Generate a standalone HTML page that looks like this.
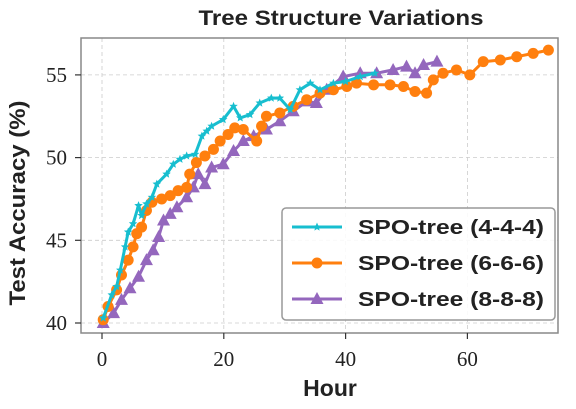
<!DOCTYPE html>
<html><head><meta charset="utf-8"><style>
body{margin:0;background:#fff;}
svg text{font-family:"Liberation Sans",sans-serif;}
.tick{font-family:"Liberation Serif",serif;font-size:21px;fill:#222;}
</style></head><body>
<svg id="chart" width="576" height="404" xmlns="http://www.w3.org/2000/svg">
<text x="341" y="25" text-anchor="middle" font-size="21" font-weight="bold" fill="#222" textLength="285" lengthAdjust="spacingAndGlyphs">Tree Structure Variations</text>
<g id="grid"></g>
<g id="series"></g>
<rect x="81" y="38" width="477" height="295" fill="none" stroke="#888" stroke-width="1.5"/>
<g id="axes"></g>
<text transform="translate(25,203) rotate(-90)" text-anchor="middle" font-size="22" font-weight="bold" fill="#222" textLength="205" lengthAdjust="spacingAndGlyphs">Test Accuracy (%)</text>
<text x="330" y="396" text-anchor="middle" font-size="23" font-weight="bold" fill="#222">Hour</text>
<g id="legend"></g>
</svg>
<script>
const xTicks=[0,20,40,60];
const yTicks=[40,45,50,55];
const seriesNames=["SPO-tree (4-4-4)","SPO-tree (6-6-6)","SPO-tree (8-8-8)"];
const cyanX=[0.2,1.6,2.4,3,3.8,4.3,5.1,6,6.5,7.3,8.2,9,10.6,11.7,12.8,13.9,15.3,16.4,17.2,18,19.9,21.6,22.7,24.3,25.9,27.8,29.2,30.9,32.5,34.2,35.8,38,40,42.4,44.8];
const cyanY=[40.3,41.7,42.2,43.2,44.6,45.5,46,47.1,46.5,47.2,47.6,48.4,49,49.6,49.9,50.1,50.2,51.3,51.6,51.9,52.3,53.1,52.4,52.6,53.3,53.6,53.6,52.9,54.1,54.5,54.1,54.5,54.6,54.9,55.1];
const orangeX=[0.2,1,2.4,3.2,4.3,5.1,5.7,6.5,7.3,8.2,9.8,11.2,12.5,13.9,14.4,15.5,16.9,18.3,19.4,20.7,21.8,23.2,25.4,26.2,27,29.2,31.4,33.6,35.8,38,40.2,41.8,44.6,47.3,49.5,51.4,53.3,54.4,56,58.2,60.4,62.6,65.4,68.1,70.8,73.3];
const orangeY=[40.2,41,42,42.9,43.8,44.6,45.4,45.8,46.8,47.3,47.5,47.7,48,48.2,49,49.7,50.1,50.5,51,51.4,51.8,51.7,51,51.9,52.5,52.7,53.1,53.5,53.9,54.1,54.3,54.5,54.4,54.4,54.3,54,53.9,54.7,55.1,55.3,55,55.8,55.9,56.1,56.3,56.5];
const purpleX=[0.2,1.9,3.2,4.6,6,7.3,8.4,9.3,10.1,11.2,12.3,13.9,15,15.8,16.9,18,19.9,21.6,23.2,24.9,27,29.2,31.4,33.6,35.2,36.9,39.6,42.4,45.1,47.8,50,51.4,52.8,55];
const purpleY=[40,40.6,41.4,42.1,42.8,43.8,44.4,45.2,46.2,46.6,47,47.6,48.2,49,48.4,49.4,49.6,50.4,51,51.3,51.7,52.2,52.8,53.4,53.3,54.1,54.9,55.1,55.1,55.3,55.5,55.1,55.6,55.8];
const colors=["#17becf","#ff7f0e","#9467bd"];
const NS="http://www.w3.org/2000/svg";
const X=v=>102+v*6.09;
const Y=v=>323-(v-40)*16.54;
function mk(t,a,p){const e=document.createElementNS(NS,t);for(const k in a)e.setAttribute(k,a[k]);p.appendChild(e);return e;}
const grid=document.getElementById('grid'),axes=document.getElementById('axes'),ser=document.getElementById('series'),leg=document.getElementById('legend');
xTicks.forEach(t=>{
 const g=mk('line',{x1:X(t),x2:X(t),y1:38,y2:333,stroke:'#ccc','stroke-dasharray':'4,3','stroke-width':0.8},grid);
 
 
 mk('line',{x1:X(t),x2:X(t),y1:333,y2:339,stroke:'#333','stroke-width':1.2},axes);
 const l=mk('text',{x:X(t),y:366,'text-anchor':'middle',class:'tick'},axes);l.textContent=t;
 
 
});
yTicks.forEach(t=>{
 const g=mk('line',{x1:81,x2:558,y1:Y(t),y2:Y(t),stroke:'#ccc','stroke-dasharray':'4,3','stroke-width':0.8},grid);
 
 
 mk('line',{x1:75,x2:81,y1:Y(t),y2:Y(t),stroke:'#333','stroke-width':1.2},axes);
 const l=mk('text',{x:67,y:Y(t)+7,'text-anchor':'end',class:'tick'},axes);l.textContent=t;
 
 
});
function marker(type,x,y,c,p){
 if(type==0){
  let pts=[];for(let i=0;i<10;i++){const r=i%2?2:4.5,a=-Math.PI/2+i*Math.PI/5;pts.push((x+r*Math.cos(a)).toFixed(1)+','+(y+r*Math.sin(a)).toFixed(1));}
  return mk('polygon',{points:pts.join(' '),fill:c},p);
 } else if(type==1){return mk('circle',{cx:x,cy:y,r:5.5,fill:c},p);}
 else {return mk('polygon',{points:`${x},${y-7} ${x-6.5},${y+5} ${x+6.5},${y+5}`,fill:c},p);}
}
const allX=[cyanX,orangeX,purpleX],allY=[cyanY,orangeY,purpleY];
[2,1,0].forEach(s=>{
 const g=mk('g',{},ser);
 
 
 const d=allX[s].map((v,i)=>(i?'L':'M')+X(v).toFixed(1)+','+Y(allY[s][i]).toFixed(1)).join('');
 mk('path',{d:d,fill:'none',stroke:colors[s],'stroke-width':3,'stroke-linejoin':'round'},g);
 allX[s].forEach((v,i)=>{const m=marker(s,X(v),Y(allY[s][i]),colors[s],g);
  
  });
});
mk('rect',{x:282,y:208,width:273,height:112,rx:4,fill:'#fff','fill-opacity':0.85,stroke:'#999','stroke-width':1.5},leg);
seriesNames.forEach((n,i)=>{
 const y=227+i*36;
 const g=mk('g',{},leg);
 
 
 mk('line',{x1:292,x2:342,y1:y,y2:y,stroke:colors[i],'stroke-width':3},g);
 marker(i,317,y,colors[i],g);
 const t=mk('text',{x:358,y:y+7,'font-size':20,'font-weight':'bold',fill:'#222',textLength:186,lengthAdjust:'spacingAndGlyphs'},g);t.textContent=n;
});
</script>
</body></html>
